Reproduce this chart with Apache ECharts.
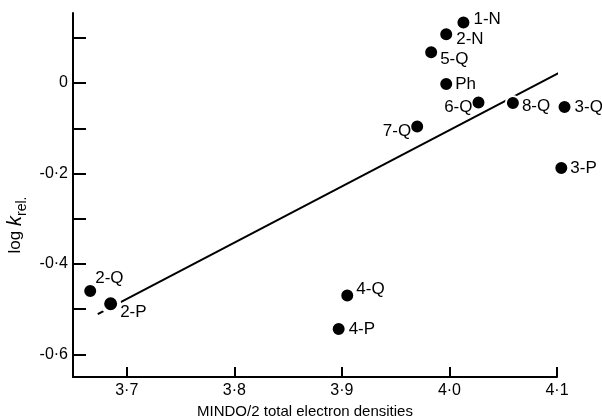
<!DOCTYPE html>
<html>
<head>
<meta charset="utf-8">
<script src="https://cdn.jsdelivr.net/npm/echarts@6/dist/echarts.min.js"></script>
<style>
  html, body { margin: 0; padding: 0; background: #fff; }
  #chart { width: 602px; height: 420px; }
</style>
</head>
<body>
<div id="chart"></div>
<script>
  // points
  const pointNames = ['1-N', '2-N', '5-Q', 'Ph', '6-Q', '8-Q', '3-Q', '3-P', '7-Q', '2-Q', '2-P', '4-Q', '4-P'];
  const densities = [4.013, 3.997, 3.983, 3.997, 4.027, 4.059, 4.107, 4.104, 3.970, 3.666, 3.685, 3.905, 3.897];
  const logK = [0.134, 0.108, 0.068, -0.002, -0.043, -0.044, -0.053, -0.188, -0.096, -0.460, -0.488, -0.470, -0.544];

  // fitted line end points
  const fitX = [3.673, 4.106];
  const fitY = [-0.511, 0.028];

  const xTicks = [3.7, 3.8, 3.9, 4.0, 4.1];
  const yTicks = [-0.6, -0.5, -0.4, -0.3, -0.2, -0.1, 0, 0.1];
  const yLabels = [-0.6, -0.4, -0.2, 0];

  // where each label sits next to its dot
  const labelPlace = {
    '1-N': ['right', [0, -3]],
    '2-N': ['right', [0, 5]],
    '5-Q': ['right', [-1, 7]],
    'Ph':  ['right', [-1, 0]],
    '6-Q': ['left', [4, 5]],
    '8-Q': ['right', [-1, 3]],
    '3-Q': ['right', [0, 0]],
    '3-P': ['right', [-1, 0]],
    '7-Q': ['left', [4, 5]],
    '2-Q': ['right', [-5, -13]],
    '2-P': ['right', [-3, 9]],
    '4-Q': ['right', [-1, -6]],
    '4-P': ['right', [0, 0]]
  };

  const font = 'Liberation Sans';

  let points = [];
  for (let i = 0; i < pointNames.length; i++) {
    let p = labelPlace[pointNames[i]];
    let item = {
      name: pointNames[i],
      value: [densities[i], logK[i]],
      label: { position: p[0], offset: p[1] }
    };
    // 2-P sits on the line, wider white rim cuts it
    if (pointNames[i] === '2-P') {
      item.symbolSize = 17;
      item.itemStyle = { borderWidth: 4 };
    }
    points.push(item);
  }

  let fitLine = [];
  for (let i = 0; i < fitX.length; i++) {
    fitLine.push([fitX[i], fitY[i]]);
  }

  const myChart = echarts.init(document.getElementById('chart'));
  let option = {
    backgroundColor: '#fff',
    animation: false,
    grid: { left: 73, right: 45, top: 13, bottom: 43, outerBoundsMode: 'none', containLabel: false },
    xAxis: {
      type: 'value',
      min: 3.65,
      max: 4.1,
      name: 'MINDO/2 total electron densities',
      nameLocation: 'middle',
      nameGap: 26,
      nameTextStyle: { fontFamily: font, fontSize: 15, color: '#000', padding: [0, 20, 0, 0] },
      splitLine: { show: false },
      axisLine: { onZero: false, lineStyle: { color: '#000', width: 2 } },
      axisTick: { inside: true, length: 10, customValues: xTicks, lineStyle: { color: '#000', width: 2 } },
      axisLabel: {
        customValues: xTicks,
        margin: 6,
        fontFamily: font,
        fontSize: 16,
        color: '#000',
        formatter: v => v.toFixed(1).replace('.', '·')
      }
    },
    yAxis: {
      type: 'value',
      min: -0.65,
      max: 0.155,
      name: '{a|log }{k|k}{s|rel.}',
      nameLocation: 'middle',
      nameRotate: 90,
      nameGap: 38,
      nameTextStyle: {
        padding: [0, 60, 0, 0],
        rich: {
          a: { fontFamily: font, fontSize: 17, color: '#000', lineHeight: 24 },
          k: { fontFamily: font, fontSize: 20, fontStyle: 'italic', color: '#000', lineHeight: 24 },
          s: { fontFamily: font, fontSize: 14, color: '#000', lineHeight: 24, padding: [12, 0, 0, 0] }
        }
      },
      splitLine: { show: false },
      axisLine: { onZero: false, lineStyle: { color: '#000', width: 2 } },
      axisTick: { inside: true, length: 13, customValues: yTicks, lineStyle: { color: '#000', width: 2 } },
      axisLabel: {
        customValues: yLabels,
        margin: 5,
        fontFamily: font,
        fontSize: 16,
        color: '#000',
        formatter: v => String(Math.round(v * 10) / 10).replace('.', '·')
      }
    },
    series: [
      {
        type: 'line',
        data: fitLine,
        symbol: 'none',
        clip: false,
        z: 1,
        lineStyle: { color: '#000', width: 2 }
      },
      {
        type: 'scatter',
        data: points,
        symbolSize: 14,
        clip: false,
        z: 2,
        itemStyle: { color: '#000', opacity: 1, borderColor: '#fff', borderWidth: 2 },
        label: {
          show: true,
          formatter: '{b}',
          distance: 2,
          fontFamily: font,
          fontSize: 17,
          color: '#000'
        }
      }
    ]
  };

  myChart.setOption(option);
</script>
</body>
</html>
